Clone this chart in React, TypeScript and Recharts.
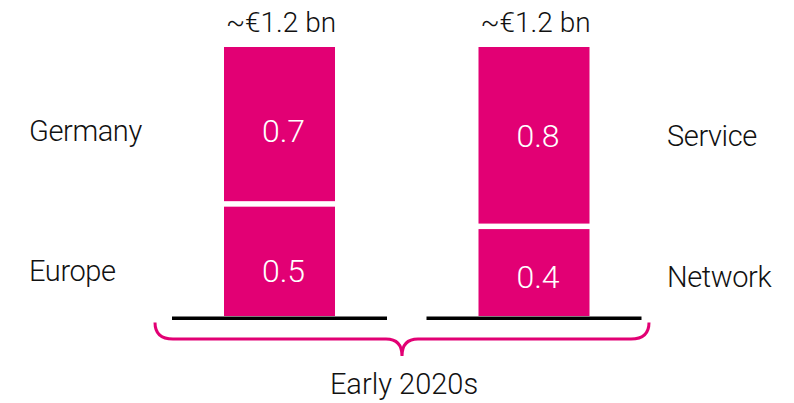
import React from 'react';
import { BarChart, Bar, XAxis, YAxis, LabelList } from 'recharts';

// ---- data ----
const groups = ['By region', 'By type'];
const bottomValues = [0.5, 0.4];
const topValues = [0.7, 0.8];
const bottomNames = ['Europe', 'Network'];
const topNames = ['Germany', 'Service'];
const periodLabel = 'Early 2020s';
const currencyPrefix = '~€';
const unitSuffix = ' bn';

const data = groups.map((g, i) => ({
  group: g,
  bottom: bottomValues[i],
  top: topValues[i],
  bottomName: bottomNames[i],
  topName: topNames[i],
  total: `${currencyPrefix}${(bottomValues[i] + topValues[i]).toFixed(1)}${unitSuffix}`,
}));

// ---- styles ----
const MAGENTA = '#E20074';
const TEXT = '#111111';
const FONT = "Roboto, 'Liberation Sans', sans-serif";
const GAP = 5.5;
const TOP_DY = [5, -1.5];
const BOTTOM_DY = [10.5, 5.3];

const BottomShape = (props: any) => {
  const { x, y, width, height } = props;
  return (
    <g>
      <rect x={x} y={y + GAP / 2} width={width} height={Math.max(0, height - GAP / 2)} fill={MAGENTA} />
      <rect x={x - 52} y={y + height + 0.5} width={width + 104} height={3.5} fill="#000" />
    </g>
  );
};

const TopShape = (props: any) => {
  const { x, y, width, height } = props;
  return <rect x={x} y={y} width={width} height={Math.max(0, height - GAP / 2)} fill={MAGENTA} />;
};

const makeValueLabel = (dys: number[]) => (props: any) => {
  const { x, y, width, height, value, index } = props;
  const cx = x + width / 2 + 4;
  const cy = y + height / 2 + (dys[index] ?? 0);
  return (
    <text x={cx} y={cy + 11.5} textAnchor="middle" fill="#fff" fontFamily={FONT} fontWeight={300} fontSize={32}>
      {value}
    </text>
  );
};

const makeSideLabel = (dys: number[]) => (props: any) => {
  const { x, y, width, height, value, index } = props;
  const cy = y + height / 2 + (dys[index] ?? 0);
  const left = index === 0;
  return (
    <text
      x={left ? x - 195 : x + width + 77.5}
      y={cy + 10.5}
      textAnchor="start"
      fill={TEXT}
      fontFamily={FONT}
      fontWeight={300}
      fontSize={29}
      letterSpacing={-0.4}
    >
      {value}
    </text>
  );
};

const TotalLabel = (props: any) => {
  const { x, y, width, value } = props;
  return (
    <text x={x + width / 2 + 1.5} y={y - 15} textAnchor="middle" fill={TEXT} fontFamily={FONT} fontWeight={300} fontSize={28}>
      {value}
    </text>
  );
};

const PeriodBrace = (props: any) => {
  const vb = props.viewBox || {};
  const { x, y, width } = vb;
  const x0 = x + 3;
  const x1 = x + width - 12;
  const mid = (x0 + x1) / 2;
  const top = y + 6.5;
  const bar = y + 23;
  const tip = y + 40;
  const d = `M${x0},${top} Q${x0},${bar} ${x0 + 18},${bar} L${mid - 16},${bar} Q${mid},${bar} ${mid},${tip} Q${mid},${bar} ${mid + 16},${bar} L${x1 - 18},${bar} Q${x1},${bar} ${x1},${top}`;
  return (
    <g>
      <path d={d} fill="none" stroke={MAGENTA} strokeWidth={3} />
      <text x={mid + 2} y={y + 78} textAnchor="middle" fill={TEXT} fontFamily={FONT} fontWeight={300} fontSize={29}>
        {periodLabel}
      </text>
    </g>
  );
};

const BottomValueLabel = makeValueLabel(BOTTOM_DY);
const TopValueLabel = makeValueLabel(TOP_DY);
const BottomSideLabel = makeSideLabel(BOTTOM_DY);
const TopSideLabel = makeSideLabel(TOP_DY);

export default function App() {
  return (
    <div style={{ position: 'absolute', left: 0, top: 0, width: 794, height: 403, background: '#fff' }}>
      <BarChart width={794} height={403} data={data} margin={{ top: 47, right: 133, bottom: 7, left: 152 }}>
        <XAxis
          dataKey="group"
          height={80}
          axisLine={false}
          tickLine={false}
          tick={false}
          label={<PeriodBrace />}
        />
        <YAxis hide domain={[0, 1.2]} />
        <Bar dataKey="bottom" stackId="a" barSize={111} shape={<BottomShape />} isAnimationActive={false}>
          <LabelList dataKey="bottom" content={<BottomValueLabel />} />
          <LabelList dataKey="bottomName" content={<BottomSideLabel />} />
        </Bar>
        <Bar dataKey="top" stackId="a" barSize={111} shape={<TopShape />} isAnimationActive={false}>
          <LabelList dataKey="top" content={<TopValueLabel />} />
          <LabelList dataKey="topName" content={<TopSideLabel />} />
          <LabelList dataKey="total" content={<TotalLabel />} />
        </Bar>
      </BarChart>
    </div>
  );
}
